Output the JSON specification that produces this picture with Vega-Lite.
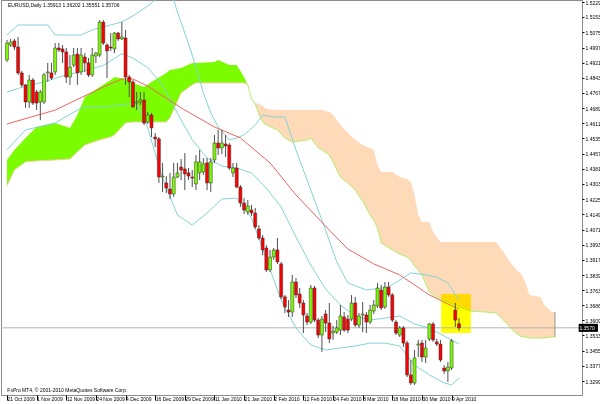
{
"$schema":"https://vega.github.io/schema/vega-lite/v6.json",
"width":581,"height":395,"autosize":"none",
"padding":{"left":1,"top":0,"right":18,"bottom":9},
"background":"#ffffff",
"config":{"view":{"stroke":"#8c8c8c","strokeWidth":1},"font":"Liberation Sans","axis":{"labelFont":"Liberation Sans","labelFontSize":5,"labelColor":"#000000","tickColor":"#000000","grid":false,"domain":false,"labelOverlap":false,"labelBound":false,"labelFlush":false,"title":null}},
"resolve":{"axis":{"x":"independent","y":"independent"}},
"datasets":{
"one":[{"k":1}],
"candles":[
{"i":0,"o":1.4934,"h":1.5036,"l":1.4924,"c":1.5020},{"i":1,"o":1.5010,"h":1.5041,"l":1.5000,"c":1.5025},{"i":2,"o":1.5031,"h":1.5041,"l":1.4985,"c":1.5000},{"i":3,"o":1.5000,"h":1.5051,"l":1.4858,"c":1.4868},{"i":4,"o":1.4868,"h":1.4878,"l":1.4796,"c":1.4807},{"i":5,"o":1.4807,"h":1.4812,"l":1.4690,"c":1.4720},{"i":6,"o":1.4720,"h":1.4858,"l":1.4690,"c":1.4832},{"i":7,"o":1.4832,"h":1.4842,"l":1.4705,"c":1.4715},{"i":8,"o":1.4771,"h":1.4781,"l":1.4679,"c":1.4715},{"i":9,"o":1.4720,"h":1.4781,"l":1.4628,"c":1.4771},
{"i":10,"o":1.4720,"h":1.4868,"l":1.4710,"c":1.4858},{"i":11,"o":1.4868,"h":1.4919,"l":1.4822,"c":1.4873},{"i":12,"o":1.4868,"h":1.4919,"l":1.4832,"c":1.4842},{"i":13,"o":1.4873,"h":1.5020,"l":1.4858,"c":1.4995},{"i":14,"o":1.4995,"h":1.5020,"l":1.4975,"c":1.4985},{"i":15,"o":1.4990,"h":1.5010,"l":1.4919,"c":1.4975},{"i":16,"o":1.4975,"h":1.4995,"l":1.4817,"c":1.4847},{"i":17,"o":1.4847,"h":1.4959,"l":1.4807,"c":1.4898},{"i":18,"o":1.4908,"h":1.4995,"l":1.4898,"c":1.4959},{"i":19,"o":1.4964,"h":1.4995,"l":1.4807,"c":1.4868},
{"i":20,"o":1.4873,"h":1.4995,"l":1.4858,"c":1.4959},{"i":21,"o":1.4949,"h":1.4969,"l":1.4873,"c":1.4919},{"i":22,"o":1.4919,"h":1.4944,"l":1.4847,"c":1.4858},{"i":23,"o":1.4858,"h":1.4995,"l":1.4847,"c":1.4959},{"i":24,"o":1.4954,"h":1.4975,"l":1.4919,"c":1.4969},{"i":25,"o":1.4959,"h":1.5137,"l":1.4949,"c":1.5127},{"i":26,"o":1.5127,"h":1.5137,"l":1.5010,"c":1.5020},{"i":27,"o":1.5010,"h":1.5020,"l":1.4842,"c":1.4980},{"i":28,"o":1.5000,"h":1.5071,"l":1.4980,"c":1.4995},{"i":29,"o":1.4990,"h":1.5076,"l":1.4969,"c":1.5071},
{"i":30,"o":1.5071,"h":1.5076,"l":1.5031,"c":1.5041},{"i":31,"o":1.5041,"h":1.5127,"l":1.5036,"c":1.5051},{"i":32,"o":1.5046,"h":1.5087,"l":1.4807,"c":1.4847},{"i":33,"o":1.4847,"h":1.4858,"l":1.4745,"c":1.4822},{"i":34,"o":1.4822,"h":1.4832,"l":1.4690,"c":1.4695},{"i":35,"o":1.4715,"h":1.4771,"l":1.4679,"c":1.4720},{"i":36,"o":1.4720,"h":1.4771,"l":1.4705,"c":1.4730},{"i":37,"o":1.4730,"h":1.4771,"l":1.4603,"c":1.4613},{"i":38,"o":1.4618,"h":1.4669,"l":1.4608,"c":1.4654},{"i":39,"o":1.4654,"h":1.4664,"l":1.4542,"c":1.4588},
{"i":40,"o":1.4542,"h":1.4562,"l":1.4491,"c":1.4532},{"i":41,"o":1.4532,"h":1.4542,"l":1.4308,"c":1.4338},{"i":42,"o":1.4338,"h":1.4410,"l":1.4262,"c":1.4343},{"i":43,"o":1.4308,"h":1.4343,"l":1.4257,"c":1.4282},{"i":44,"o":1.4277,"h":1.4359,"l":1.4226,"c":1.4252},{"i":45,"o":1.4252,"h":1.4410,"l":1.4237,"c":1.4338},{"i":46,"o":1.4338,"h":1.4410,"l":1.4333,"c":1.4359},{"i":47,"o":1.4389,"h":1.4430,"l":1.4323,"c":1.4374},{"i":48,"o":1.4379,"h":1.4460,"l":1.4272,"c":1.4354},{"i":49,"o":1.4359,"h":1.4384,"l":1.4323,"c":1.4343},
{"i":50,"o":1.4338,"h":1.4374,"l":1.4287,"c":1.4333},{"i":51,"o":1.4303,"h":1.4450,"l":1.4272,"c":1.4415},{"i":52,"o":1.4359,"h":1.4476,"l":1.4323,"c":1.4415},{"i":53,"o":1.4364,"h":1.4435,"l":1.4349,"c":1.4405},{"i":54,"o":1.4410,"h":1.4435,"l":1.4272,"c":1.4308},{"i":55,"o":1.4308,"h":1.4435,"l":1.4262,"c":1.4415},{"i":56,"o":1.4425,"h":1.4552,"l":1.4410,"c":1.4511},{"i":57,"o":1.4511,"h":1.4578,"l":1.4450,"c":1.4486},{"i":58,"o":1.4486,"h":1.4578,"l":1.4455,"c":1.4511},{"i":59,"o":1.4506,"h":1.4552,"l":1.4440,"c":1.4496},
{"i":60,"o":1.4501,"h":1.4511,"l":1.4374,"c":1.4384},{"i":61,"o":1.4359,"h":1.4410,"l":1.4338,"c":1.4384},{"i":62,"o":1.4384,"h":1.4410,"l":1.4282,"c":1.4287},{"i":63,"o":1.4287,"h":1.4298,"l":1.4186,"c":1.4206},{"i":64,"o":1.4206,"h":1.4231,"l":1.4150,"c":1.4170},{"i":65,"o":1.4160,"h":1.4221,"l":1.4145,"c":1.4191},{"i":66,"o":1.4170,"h":1.4196,"l":1.4140,"c":1.4155},{"i":67,"o":1.4155,"h":1.4181,"l":1.4074,"c":1.4084},{"i":68,"o":1.4074,"h":1.4094,"l":1.4018,"c":1.4028},{"i":69,"o":1.4028,"h":1.4043,"l":1.3941,"c":1.3967},
{"i":70,"o":1.3977,"h":1.3992,"l":1.3855,"c":1.3865},{"i":71,"o":1.3865,"h":1.3967,"l":1.3855,"c":1.3931},{"i":72,"o":1.3931,"h":1.3977,"l":1.3916,"c":1.3967},{"i":73,"o":1.3967,"h":1.4028,"l":1.3896,"c":1.3906},{"i":74,"o":1.3896,"h":1.3906,"l":1.3717,"c":1.3728},{"i":75,"o":1.3728,"h":1.3738,"l":1.3646,"c":1.3677},{"i":76,"o":1.3661,"h":1.3712,"l":1.3626,"c":1.3651},{"i":77,"o":1.3651,"h":1.3840,"l":1.3626,"c":1.3804},{"i":78,"o":1.3804,"h":1.3824,"l":1.3722,"c":1.3738},{"i":79,"o":1.3743,"h":1.3773,"l":1.3672,"c":1.3697},
{"i":80,"o":1.3697,"h":1.3712,"l":1.3544,"c":1.3636},{"i":81,"o":1.3631,"h":1.3646,"l":1.3585,"c":1.3600},{"i":82,"o":1.3600,"h":1.3789,"l":1.3590,"c":1.3773},{"i":83,"o":1.3773,"h":1.3784,"l":1.3600,"c":1.3610},{"i":84,"o":1.3610,"h":1.3620,"l":1.3519,"c":1.3534},{"i":85,"o":1.3534,"h":1.3631,"l":1.3448,"c":1.3615},{"i":86,"o":1.3641,"h":1.3661,"l":1.3549,"c":1.3595},{"i":87,"o":1.3595,"h":1.3697,"l":1.3493,"c":1.3514},{"i":88,"o":1.3544,"h":1.3580,"l":1.3509,"c":1.3554},{"i":89,"o":1.3549,"h":1.3610,"l":1.3539,"c":1.3570},
{"i":90,"o":1.3559,"h":1.3687,"l":1.3534,"c":1.3631},{"i":91,"o":1.3626,"h":1.3651,"l":1.3549,"c":1.3559},{"i":92,"o":1.3615,"h":1.3636,"l":1.3544,"c":1.3559},{"i":93,"o":1.3615,"h":1.3738,"l":1.3605,"c":1.3697},{"i":94,"o":1.3697,"h":1.3728,"l":1.3575,"c":1.3585},{"i":95,"o":1.3585,"h":1.3646,"l":1.3570,"c":1.3631},{"i":96,"o":1.3636,"h":1.3702,"l":1.3549,"c":1.3641},{"i":97,"o":1.3636,"h":1.3651,"l":1.3544,"c":1.3600},{"i":98,"o":1.3600,"h":1.3687,"l":1.3590,"c":1.3661},{"i":99,"o":1.3656,"h":1.3712,"l":1.3641,"c":1.3687},
{"i":100,"o":1.3682,"h":1.3799,"l":1.3672,"c":1.3773},{"i":101,"o":1.3763,"h":1.3789,"l":1.3661,"c":1.3672},{"i":102,"o":1.3677,"h":1.3804,"l":1.3667,"c":1.3778},{"i":103,"o":1.3778,"h":1.3804,"l":1.3728,"c":1.3738},{"i":104,"o":1.3738,"h":1.3748,"l":1.3600,"c":1.3610},{"i":105,"o":1.3600,"h":1.3610,"l":1.3534,"c":1.3544},{"i":106,"o":1.3534,"h":1.3580,"l":1.3524,"c":1.3570},{"i":107,"o":1.3570,"h":1.3580,"l":1.3473,"c":1.3493},{"i":108,"o":1.3493,"h":1.3504,"l":1.3320,"c":1.3331},{"i":109,"o":1.3331,"h":1.3407,"l":1.3280,"c":1.3290},
{"i":110,"o":1.3290,"h":1.3458,"l":1.3280,"c":1.3417},{"i":111,"o":1.3483,"h":1.3509,"l":1.3422,"c":1.3488},{"i":112,"o":1.3493,"h":1.3509,"l":1.3397,"c":1.3422},{"i":113,"o":1.3422,"h":1.3509,"l":1.3392,"c":1.3468},{"i":114,"o":1.3514,"h":1.3595,"l":1.3504,"c":1.3590},{"i":115,"o":1.3590,"h":1.3600,"l":1.3499,"c":1.3509},{"i":116,"o":1.3499,"h":1.3514,"l":1.3478,"c":1.3488},{"i":117,"o":1.3488,"h":1.3509,"l":1.3397,"c":1.3407},{"i":118,"o":1.3366,"h":1.3381,"l":1.3336,"c":1.3351},{"i":119,"o":1.3351,"h":1.3397,"l":1.3295,"c":1.3371},
{"i":120,"o":1.3366,"h":1.3514,"l":1.3356,"c":1.3504},{"i":121,"o":1.3661,"h":1.3697,"l":1.3575,"c":1.3610},{"i":122,"o":1.35913,"h":1.36202,"l":1.35551,"c":1.35706}
],
"green":[
{"i":0,"a":1.4425,"b":1.4292},{"i":2,"a":1.4476,"b":1.4374},{"i":5,"a":1.4537,"b":1.4415},{"i":8,"a":1.4593,"b":1.4420},{"i":13,"a":1.4613,"b":1.4425},{"i":17,"a":1.4588,"b":1.4430},{"i":19,"a":1.4654,"b":1.4466},{"i":21,"a":1.4745,"b":1.4501},{"i":25,"a":1.4796,"b":1.4527},{"i":28,"a":1.4832,"b":1.4542},{"i":29,"a":1.4847,"b":1.4552},{"i":32,"a":1.4837,"b":1.4613},{"i":34,"a":1.4817,"b":1.4618},{"i":37,"a":1.4796,"b":1.4618},{"i":39,"a":1.4822,"b":1.4618},{"i":43,"a":1.4868,"b":1.4618},{"i":44,"a":1.4883,"b":1.4639},{"i":47,"a":1.4893,"b":1.4766},{"i":50,"a":1.4919,"b":1.4807},{"i":51,"a":1.4919,"b":1.4817},{"i":56,"a":1.4924,"b":1.4817},{"i":57,"a":1.4934,"b":1.4817},{"i":60,"a":1.4908,"b":1.4817},{"i":62,"a":1.4908,"b":1.4817},{"i":64,"a":1.4847,"b":1.4817},{"i":65,"a":1.4807,"b":1.4807}
],
"peach":[
{"i":65,"b":1.4807,"a":1.4807},{"i":66,"b":1.4735,"a":1.4735},{"i":67,"b":1.4715,"a":1.4710},{"i":68,"b":1.4710,"a":1.4659},{"i":69,"b":1.4700,"a":1.4618},{"i":70,"b":1.4684,"a":1.4603},{"i":73,"b":1.4679,"a":1.4578},{"i":75,"b":1.4679,"a":1.4537},{"i":77,"b":1.4679,"a":1.4516},{"i":81,"b":1.4679,"a":1.4527},{"i":82,"b":1.4679,"a":1.4537},{"i":84,"b":1.4679,"a":1.4486},{"i":85,"b":1.4679,"a":1.4476},{"i":87,"b":1.4669,"a":1.4450},{"i":88,"b":1.4654,"a":1.4415},{"i":90,"b":1.4603,"a":1.4338},{"i":92,"b":1.4562,"a":1.4308},{"i":94,"b":1.4527,"a":1.4272},{"i":96,"b":1.4501,"a":1.4216},{"i":98,"b":1.4486,"a":1.4145},{"i":99,"b":1.4476,"a":1.4119},{"i":100,"b":1.4399,"a":1.4079},{"i":101,"b":1.4364,"a":1.4002},{"i":104,"b":1.4364,"a":1.3967},{"i":106,"b":1.4338,"a":1.3946},{"i":108,"b":1.4328,"a":1.3931},{"i":109,"b":1.4313,"a":1.3916},{"i":110,"b":1.4247,"a":1.3885},{"i":111,"b":1.4145,"a":1.3865},{"i":112,"b":1.4109,"a":1.3840},{"i":114,"b":1.4109,"a":1.3753},{"i":115,"b":1.4058,"a":1.3738},{"i":117,"b":1.4007,"a":1.3717},{"i":125,"b":1.4007,"a":1.3656},{"i":129,"b":1.4007,"a":1.3651},{"i":132,"b":1.4007,"a":1.3646},{"i":134,"b":1.3957,"a":1.3610},{"i":135,"b":1.3926,"a":1.3590},{"i":137,"b":1.3875,"a":1.3549},{"i":139,"b":1.3840,"a":1.3524},{"i":140,"b":1.3799,"a":1.3524},{"i":141,"b":1.3738,"a":1.3519},{"i":144,"b":1.3728,"a":1.3519},{"i":145,"b":1.3687,"a":1.3519},{"i":147,"b":1.3651,"a":1.3524},{"i":148,"b":1.3651,"a":1.3524}
],
"ma":[
{"i":0,"v":1.4608},{"i":13,"v":1.4679},{"i":26,"v":1.4796},{"i":31,"v":1.4837},{"i":34,"v":1.4837},{"i":38,"v":1.4801},{"i":47,"v":1.4690},{"i":56,"v":1.4593},{"i":63,"v":1.4537},{"i":71,"v":1.4410},{"i":78,"v":1.4247},{"i":87,"v":1.4068},{"i":92,"v":1.3972},{"i":99,"v":1.3896},{"i":106,"v":1.3840},{"i":114,"v":1.3738},{"i":119,"v":1.3692},{"i":122,"v":1.3667}
],
"bb":[
{"band":"upper","i":0,"v":1.5061},{"band":"upper","i":3,"v":1.5112},{"band":"upper","i":11,"v":1.5112},{"band":"upper","i":13,"v":1.5061},{"band":"upper","i":20,"v":1.5061},{"band":"upper","i":23,"v":1.5087},{"band":"upper","i":26,"v":1.5102},{"band":"upper","i":29,"v":1.5117},{"band":"upper","i":31,"v":1.5127},{"band":"upper","i":34,"v":1.5158},{"band":"upper","i":38,"v":1.5209},{"band":"upper","i":40,"v":1.5239},{"band":"upper","i":42,"v":1.5280},{"band":"upper","i":43,"v":1.5290},{"band":"upper","i":44,"v":1.5270},{"band":"upper","i":45,"v":1.5239},{"band":"upper","i":46,"v":1.5178},{"band":"upper","i":48,"v":1.5071},{"band":"upper","i":50,"v":1.4959},{"band":"upper","i":51,"v":1.4898},{"band":"upper","i":53,"v":1.4766},{"band":"upper","i":55,"v":1.4664},{"band":"upper","i":57,"v":1.4593},{"band":"upper","i":60,"v":1.4527},{"band":"upper","i":62,"v":1.4537},{"band":"upper","i":64,"v":1.4552},{"band":"upper","i":67,"v":1.4603},{"band":"upper","i":69,"v":1.4654},{"band":"upper","i":72,"v":1.4644},{"band":"upper","i":75,"v":1.4644},{"band":"upper","i":78,"v":1.4476},{"band":"upper","i":82,"v":1.4272},{"band":"upper","i":86,"v":1.4068},{"band":"upper","i":89,"v":1.3906},{"band":"upper","i":92,"v":1.3799},{"band":"upper","i":97,"v":1.3763},{"band":"upper","i":103,"v":1.3778},{"band":"upper","i":109,"v":1.3850},{"band":"upper","i":113,"v":1.3840},{"band":"upper","i":116,"v":1.3829},{"band":"upper","i":119,"v":1.3799},{"band":"upper","i":122,"v":1.3712},
{"band":"mid","i":0,"v":1.4771},{"band":"mid","i":5,"v":1.4801},{"band":"mid","i":10,"v":1.4822},{"band":"mid","i":15,"v":1.4852},{"band":"mid","i":20,"v":1.4875},{"band":"mid","i":26,"v":1.4906},{"band":"mid","i":31,"v":1.4966},{"band":"mid","i":34,"v":1.4943},{"band":"mid","i":38,"v":1.4895},{"band":"mid","i":42,"v":1.4805},{"band":"mid","i":46,"v":1.4662},{"band":"mid","i":50,"v":1.4528},{"band":"mid","i":54,"v":1.4435},{"band":"mid","i":58,"v":1.4394},{"band":"mid","i":62,"v":1.4384},{"band":"mid","i":66,"v":1.4359},{"band":"mid","i":70,"v":1.4282},{"band":"mid","i":74,"v":1.4186},{"band":"mid","i":78,"v":1.4033},{"band":"mid","i":82,"v":1.3890},{"band":"mid","i":86,"v":1.3768},{"band":"mid","i":90,"v":1.3687},{"band":"mid","i":94,"v":1.3631},{"band":"mid","i":98,"v":1.3610},{"band":"mid","i":102,"v":1.3620},{"band":"mid","i":106,"v":1.3631},{"band":"mid","i":110,"v":1.3590},{"band":"mid","i":114,"v":1.3570},{"band":"mid","i":118,"v":1.3529},{"band":"mid","i":122,"v":1.3488},
{"band":"lower","i":0,"v":1.4476},{"band":"lower","i":5,"v":1.4578},{"band":"lower","i":13,"v":1.4613},{"band":"lower","i":20,"v":1.4690},{"band":"lower","i":29,"v":1.4700},{"band":"lower","i":35,"v":1.4715},{"band":"lower","i":38,"v":1.4588},{"band":"lower","i":42,"v":1.4333},{"band":"lower","i":46,"v":1.4145},{"band":"lower","i":50,"v":1.4094},{"band":"lower","i":54,"v":1.4155},{"band":"lower","i":58,"v":1.4226},{"band":"lower","i":62,"v":1.4231},{"band":"lower","i":66,"v":1.4130},{"band":"lower","i":70,"v":1.3921},{"band":"lower","i":74,"v":1.3712},{"band":"lower","i":78,"v":1.3570},{"band":"lower","i":82,"v":1.3483},{"band":"lower","i":86,"v":1.3458},{"band":"lower","i":90,"v":1.3468},{"band":"lower","i":94,"v":1.3478},{"band":"lower","i":98,"v":1.3493},{"band":"lower","i":102,"v":1.3493},{"band":"lower","i":106,"v":1.3478},{"band":"lower","i":110,"v":1.3381},{"band":"lower","i":114,"v":1.3331},{"band":"lower","i":118,"v":1.3290},{"band":"lower","i":120,"v":1.3280},{"band":"lower","i":122,"v":1.3315}
]
},
"layer":[
{"data":{"name":"green"},"mark":{"type":"area","color":"#7CFC00","clip":true},
 "encoding":{
  "x":{"field":"i","type":"quantitative","scale":{"domain":[-0.265,153.85],"nice":false,"zero":false},
   "axis":{"orient":"bottom","title":null,"values":[0,8,16,24,32,40,48,56,64,72,80,88,96,104,112,120],
    "labelExpr":"['21 Oct 2009','1 Nov 2009','12 Nov 2009','24 Nov 2009','4 Dec 2009','16 Dec 2009','29 Dec 2009','11 Jan 2010','21 Jan 2010','2 Feb 2010','12 Feb 2010','24 Feb 2010','8 Mar 2010','18 Mar 2010','30 Mar 2010','9 Apr 2010'][round(datum.value/8)]",
    "labelAlign":"left","labelBaseline":"top","labelPadding":-4,"tickSize":5,"labelDx":2,"labelOverlap":false,"labelFlush":false,"labelBound":false}},
  "y":{"field":"a","type":"quantitative","scale":{"domain":[1.32287,1.52392],"nice":false,"zero":false},
   "axis":{"orient":"right","title":null,"values":[1.5229,1.5153,1.5075,1.4997,1.4921,1.4843,1.4767,1.4689,1.4611,1.4535,1.4457,1.4381,1.4303,1.4225,1.4149,1.4071,1.3993,1.3917,1.3839,1.3763,1.3686,1.3609,1.3533,1.3455,1.3377,1.3299,1.3223],
    "format":".4f","tickSize":2,"labelPadding":1,"labelBaseline":"middle","labelOverlap":false,"labelFlush":false,"labelBound":false}},
  "y2":{"field":"b"}}},
{"data":{"name":"green"},"mark":{"type":"line","color":"#F6CFA8","strokeWidth":1,"clip":true},
 "encoding":{"x":{"field":"i","type":"quantitative","axis":null},"y":{"field":"b","type":"quantitative","axis":null}}},
{"data":{"name":"peach"},"mark":{"type":"area","color":"#FFDAB9","clip":true},
 "encoding":{"x":{"field":"i","type":"quantitative","axis":null},"y":{"field":"b","type":"quantitative","axis":null},"y2":{"field":"a"}}},
{"data":{"name":"peach"},"mark":{"type":"line","color":"#B4EE6A","strokeWidth":1,"clip":true},
 "encoding":{"x":{"field":"i","type":"quantitative","axis":null},"y":{"field":"a","type":"quantitative","axis":null}}},
{"data":{"name":"one"},"mark":{"type":"rect","color":"#FFFF00","blend":"multiply"},
 "encoding":{"x":{"datum":117.2,"axis":null},"x2":{"datum":125.2},"y":{"datum":1.3743,"axis":null},"y2":{"datum":1.3544}}},
{"data":{"name":"one"},"mark":{"type":"rule","color":"#B4B4B4","strokeWidth":1},
 "encoding":{"y":{"datum":1.35706,"axis":null}}},
{"data":{"name":"one"},"mark":{"type":"rule","color":"#9A9A9A","strokeWidth":1},
 "encoding":{"x":{"datum":147.9,"axis":null},"y":{"datum":1.3651,"axis":null},"y2":{"datum":1.3524}}},
{"data":{"name":"bb"},"mark":{"type":"line","color":"#84D4D4","strokeWidth":1,"clip":true},
 "encoding":{"x":{"field":"i","type":"quantitative","axis":null},"y":{"field":"v","type":"quantitative","axis":null},"detail":{"field":"band"}}},
{"data":{"name":"ma"},"mark":{"type":"line","color":"#F06464","strokeWidth":1,"clip":true},
 "encoding":{"x":{"field":"i","type":"quantitative","axis":null},"y":{"field":"v","type":"quantitative","axis":null}}},
{"data":{"name":"candles"},"mark":{"type":"rule","color":"#505050","strokeWidth":1},
 "encoding":{"x":{"field":"i","type":"quantitative","axis":null},"y":{"field":"l","type":"quantitative","axis":null},"y2":{"field":"h"}}},
{"data":{"name":"candles"},"mark":{"type":"bar","size":3,"stroke":"#303030","strokeWidth":0.5},
 "encoding":{"x":{"field":"i","type":"quantitative","axis":null},"y":{"field":"o","type":"quantitative","axis":null},"y2":{"field":"c"},
  "color":{"condition":{"test":"datum.c >= datum.o","value":"#7CFC00"},"value":"#FF0000"}}},
{"data":{"name":"one"},"mark":{"type":"text","align":"left","baseline":"middle","fontSize":5,"font":"Liberation Sans","color":"#000000"},
 "encoding":{"x":{"datum":0.27,"axis":null},"y":{"datum":1.5214,"axis":null},"text":{"value":"EURUSD,Daily  1.35913 1.36202 1.35551 1.35706"}}},
{"data":{"name":"one"},"mark":{"type":"text","align":"left","baseline":"middle","fontSize":5,"font":"Liberation Sans","color":"#000000"},
 "encoding":{"x":{"datum":0.1,"axis":null},"y":{"datum":1.3254,"axis":null},"text":{"value":"FxPro MT4, © 2001-2010 MetaQuotes Software Corp."}}},
{"data":{"name":"one"},"mark":{"type":"rect","color":"#000000"},
 "encoding":{"x":{"datum":154.3,"axis":null},"x2":{"datum":159.5},"y":{"datum":1.3591,"axis":null},"y2":{"datum":1.3550}}},
{"data":{"name":"one"},"mark":{"type":"text","align":"left","baseline":"middle","fontSize":5,"font":"Liberation Sans","color":"#FFFFFF"},
 "encoding":{"x":{"datum":154.5,"axis":null},"y":{"datum":1.35706,"axis":null},"text":{"value":"1.3570"}}}
]
}
